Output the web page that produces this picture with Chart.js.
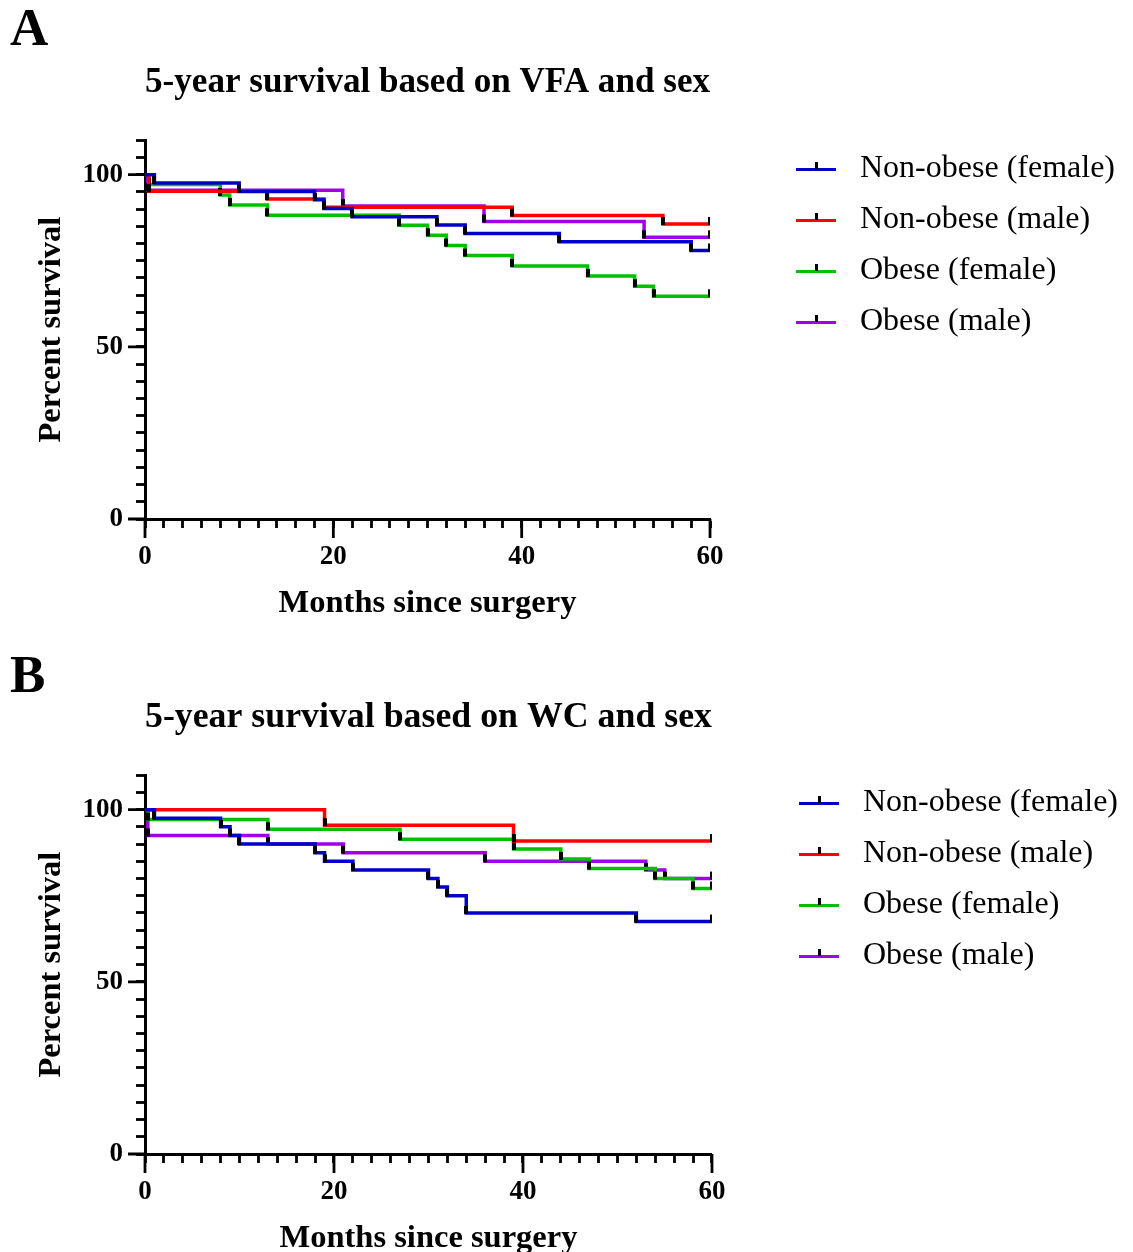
<!DOCTYPE html>
<html>
<head>
<meta charset="utf-8">
<script src="https://cdn.jsdelivr.net/npm/chart.js@4.4.0/dist/chart.umd.min.js"></script>
<style>
  html, body { margin: 0; padding: 0; background: #fff; width: 1133px; height: 1252px; overflow: hidden; }
  .panel { position: absolute; left: 0; width: 1133px; height: 640px; }
  .lettre { position: absolute; left: 10px; font: bold 53px "Liberation Serif", "Times New Roman", serif; line-height: 53px; z-index: 2; }
</style>
</head>
<body>
<div class="panel" style="top:0px"><canvas id="graphA" width="1133" height="640"></canvas></div>
<div class="panel" style="top:635px"><canvas id="graphB" width="1133" height="640"></canvas></div>
<div class="lettre" style="top:1px">A</div>
<div class="lettre" style="top:648px">B</div>

<script>
// groupes et couleurs (meme ordre pour les deux graphiques)
var labels_groupes = ["Non-obese (female)", "Non-obese (male)", "Obese (female)", "Obese (male)"];
var couleurs = ["#0000C8", "#FF0000", "#00C000", "#A000E6"];

// ticks avec label
var x_ticks_labels = [0, 20, 40, 60];
var y_ticks_labels = [0, 50, 100];

// A : VFA (mois, % survie)
var vfa_mois_nof = [0, 1, 10, 18, 19, 22, 31, 34, 44, 58, 60];
var vfa_surv_nof = [100, 97.6, 95.1, 92.7, 90.2, 87.8, 85.4, 82.9, 80.5, 78.0, 78.0];
var vfa_mois_nom = [0, 0.4, 13, 19, 39, 55, 60];
var vfa_surv_nom = [100, 95.2, 92.9, 90.5, 88.1, 85.7, 85.7];
var vfa_mois_of = [0, 0.4, 8, 9, 13, 27, 30, 32, 34, 39, 47, 52, 54, 60];
var vfa_surv_of = [100, 97.1, 94.1, 91.2, 88.2, 85.3, 82.4, 79.4, 76.5, 73.5, 70.6, 67.6, 64.7, 64.7];
var vfa_mois_om = [0, 0.3, 21, 36, 53, 60];
var vfa_surv_om = [100, 95.5, 90.9, 86.4, 81.8, 81.8];

// B : WC
var wc_mois_nof = [0, 1, 8, 9, 10, 18, 19, 22, 30, 31, 32, 34, 52, 60];
var wc_surv_nof = [100, 97.5, 95, 92.5, 90, 87.5, 85, 82.5, 80, 77.5, 75, 70, 67.5, 67.5];
var wc_mois_nom = [0, 19, 39, 60];
var wc_surv_nom = [100, 95.5, 90.9, 90.9];
var wc_mois_of = [0, 0.3, 13, 27, 39, 44, 47, 54, 58, 60];
var wc_surv_of = [100, 97.1, 94.3, 91.4, 88.6, 85.7, 82.9, 80, 77.1, 77.1];
var wc_mois_om = [0, 0.3, 13, 21, 36, 53, 55, 60];
var wc_surv_om = [100, 92.5, 90, 87.5, 85, 82.5, 80, 80];

var police = '"Liberation Serif", "Times New Roman", serif';

//petit trait noir (sujets censurés)
var trait = document.createElement("canvas");
trait.width = 4;
trait.height = 16;
var tctx = trait.getContext("2d");
tctx.fillStyle = "#000";
tctx.fillRect(0, 1, 4, 8);

//icone de legende : ligne de couleur + trait noir
function iconeLegende(couleur) {
    let c = document.createElement("canvas");
    c.width = 40;
    c.height = 20;
    let g = c.getContext("2d");
    g.fillStyle = couleur;
    g.fillRect(0, 9, 40, 3);
    g.fillStyle = "#000";
    g.fillRect(19, 3, 3, 7);
    return c;
}
var icones = couleurs.map(c => iconeLegende(c));

function creerDatasets(tab_mois, tab_surv) {
    var datasets = [];
    for (let i = 0; i < labels_groupes.length; i++) {
        let points = [];
        for (let n = 0; n < tab_mois[i].length; n++) {
            points.push({x: tab_mois[i][n], y: tab_surv[i][n]});
        }
        datasets.push({
            label: labels_groupes[i],
            data: points,
            borderColor: couleurs[i],
            backgroundColor: couleurs[i],
            borderWidth: 3.5,
            stepped: true,
            fill: false,
            pointStyle: trait,
            pointRadius: ctx => ctx.dataIndex === 0 ? 0 : 3,
            pointHoverRadius: ctx => ctx.dataIndex === 0 ? 0 : 3
        });
    }
    return datasets;
}

//grands ticks (0, 20, 40, 60 et 0, 50, 100)
var grandsTicks = {
    id: "grandsTicks",
    afterDraw(chart) {
        let ctx = chart.ctx;
        let area = chart.chartArea;
        ctx.save();
        ctx.strokeStyle = "#000";
        ctx.lineWidth = 2.8;
        ctx.beginPath();
        for (let v of x_ticks_labels) {
            let px = chart.scales.x.getPixelForValue(v);
            ctx.moveTo(px, area.bottom);
            ctx.lineTo(px, area.bottom + 19);
        }
        for (let v of y_ticks_labels) {
            let py = chart.scales.y.getPixelForValue(v);
            ctx.moveTo(area.left, py);
            ctx.lineTo(area.left - 17, py);
        }
        ctx.stroke();
        ctx.restore();
    }
};

//deplacer la legende (sinon elle est trop etroite et coupee)
var placeLegende = {
    id: "placeLegende",
    afterLayout(chart, args, opts) {
        let leg = chart.legend;
        leg.left = opts.x;
        leg.right = opts.x + 370;
        leg.width = 370;
        leg.top = opts.y;
        leg.bottom = opts.y + 300;
        leg.height = 300;
    }
};

function creerGraph(id, titre, datasets, legX, legY, padDroite) {
    var ctx = document.getElementById(id).getContext("2d");
    return new Chart(ctx, {
        type: "line",
        data: { datasets: datasets },
        plugins: [grandsTicks, placeLegende],
        options: {
            responsive: false,
            animation: false,
            devicePixelRatio: 1,
            layout: { padding: { left: 0, top: 0, bottom: 0, right: padDroite } },
            plugins: {
                title: {
                    display: true,
                    text: titre,
                    fullSize: false,
                    color: "#000",
                    font: { family: police, size: 36, weight: "bold" },
                    padding: { top: 61, bottom: 36 }
                },
                legend: {
                    position: "right",
                    align: "start",
                    fullSize: false,
                    labels: {
                        usePointStyle: true,
                        pointStyleWidth: 56,
                        padding: 19,
                        color: "#000",
                        font: { family: police, size: 32 },
                        generateLabels: function(chart) {
                            return chart.data.datasets.map((ds, i) => ({
                                text: ds.label,
                                pointStyle: icones[i],
                                fillStyle: ds.borderColor,
                                strokeStyle: ds.borderColor,
                                lineWidth: 0,
                                hidden: false,
                                datasetIndex: i,
                                fontColor: "#000"
                            }));
                        }
                    }
                },
                tooltip: { enabled: false },
                placeLegende: { x: legX, y: legY }
            },
            scales: {
                x: {
                    type: "linear",
                    min: 0,
                    max: 60,
                    afterFit: s => { s.height = 121; },
                    border: { display: true, color: "#000", width: 3 },
                    grid: { drawOnChartArea: false, drawTicks: true, tickLength: 9, tickWidth: 2.8, tickColor: "#000" },
                    ticks: {
                        stepSize: 2,
                        autoSkip: false,
                        maxRotation: 0,
                        padding: 13,
                        color: "#000",
                        font: { family: police, size: 27, weight: "bold" },
                        callback: v => x_ticks_labels.includes(v) ? v : ""
                    },
                    title: {
                        display: true,
                        text: "Months since surgery",
                        color: "#000",
                        font: { family: police, size: 32.5, weight: "bold" },
                        padding: { top: 0, bottom: 17 }
                    }
                },
                y: {
                    min: 0,
                    max: 110,
                    afterFit: s => { s.width = 145; },
                    border: { display: true, color: "#000", width: 3 },
                    grid: { drawOnChartArea: false, drawTicks: true, tickLength: 9, tickWidth: 2.8, tickColor: "#000" },
                    ticks: {
                        stepSize: 5,
                        autoSkip: false,
                        padding: 13,
                        color: "#000",
                        font: { family: police, size: 27, weight: "bold" },
                        callback: v => y_ticks_labels.includes(v) ? v : ""
                    },
                    title: {
                        display: true,
                        text: "Percent survival",
                        color: "#000",
                        font: { family: police, size: 32.5, weight: "bold" },
                        padding: { top: 32.5, bottom: 0 }
                    }
                }
            }
        }
    });
}

var graphA = creerGraph("graphA", "5-year survival based on VFA and sex",
    creerDatasets([vfa_mois_nof, vfa_mois_nom, vfa_mois_of, vfa_mois_om],
                  [vfa_surv_nof, vfa_surv_nom, vfa_surv_of, vfa_surv_om]),
    769, 134, 186.3);

var graphB = creerGraph("graphB", "5-year survival based on WC and sex",
    creerDatasets([wc_mois_nof, wc_mois_nom, wc_mois_of, wc_mois_om],
                  [wc_surv_nof, wc_surv_nom, wc_surv_of, wc_surv_om]),
    772, 133, 183.7);
</script>
</body>
</html>
